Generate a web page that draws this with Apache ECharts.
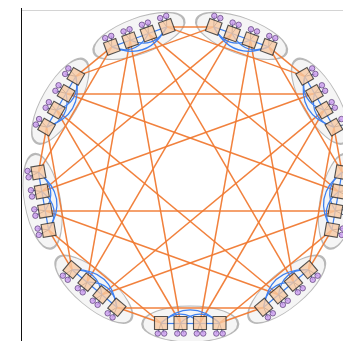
<!DOCTYPE html>
<html>
<head>
<meta charset="utf-8">
<script src="https://cdn.jsdelivr.net/npm/echarts@6/dist/echarts.min.js"></script>
<style>
  html, body { margin: 0; padding: 0; background: #ffffff; }
  #chart { width: 343px; height: 341px; }
</style>
</head>
<body>
<div id="chart"></div>
<script>
// Dragonfly network: 9 groups, 4 routers per group, 2 hosts per router.
const groups = ['G0', 'G1', 'G2', 'G3', 'G4', 'G5', 'G6', 'G7', 'G8'];
const routersPerGroup = 4;
const hostsPerRouter = 2;

// Global (inter-group) links: [groupA, routerA, groupB, routerB]
const globalLinks = [
  [0, 0, 1, 3], [0, 0, 2, 3], [0, 1, 3, 2], [0, 1, 4, 2], [0, 2, 5, 1], [0, 2, 6, 1], [0, 3, 7, 0], [0, 3, 8, 0],
  [1, 0, 2, 3], [1, 0, 3, 3], [1, 1, 4, 2], [1, 1, 5, 2], [1, 2, 6, 1], [1, 2, 7, 1], [1, 3, 8, 0],
  [2, 0, 3, 3], [2, 0, 4, 3], [2, 1, 5, 2], [2, 1, 6, 2], [2, 2, 7, 1], [2, 2, 8, 1],
  [3, 0, 4, 3], [3, 0, 5, 3], [3, 1, 6, 2], [3, 1, 7, 2], [3, 2, 8, 1],
  [4, 0, 5, 3], [4, 0, 6, 3], [4, 1, 7, 2], [4, 1, 8, 2],
  [5, 0, 6, 3], [5, 0, 7, 3], [5, 1, 8, 2],
  [6, 0, 7, 3], [6, 0, 8, 3],
  [7, 0, 8, 3]
];

// Local (intra-group) links, all-to-all between the routers of a group
const localLinks = [[0, 1], [1, 2], [2, 3], [0, 2], [1, 3], [0, 3]];

// ---- ring layout ----
const CX = 190.25, CY = 175.5, RX = 149, RY = 147.5;
const SPACING = 19.5;       // distance between routers along a group
const HOST_OUT = 10.5;      // host distance outward from its router
const HOST_SIDE = 3.2;      // host offset along the group

function groupAngle(g) {
  return (90 + 360 / groups.length * g) * Math.PI / 180;
}
function groupCenter(g, extra) {
  const a = groupAngle(g);
  return [CX + (RX + extra) * Math.cos(a), CY + (RY + extra) * Math.sin(a)];
}
function routerPos(g, r) {
  const a = groupAngle(g);
  const c = groupCenter(g, 0);
  const off = ((routersPerGroup - 1) / 2 - r) * SPACING;
  return [c[0] - Math.sin(a) * off, c[1] + Math.cos(a) * off];
}
function hostPos(g, r, h) {
  const a = groupAngle(g);
  const p = routerPos(g, r);
  const side = (h - (hostsPerRouter - 1) / 2) * 2 * HOST_SIDE;
  return [p[0] + Math.cos(a) * HOST_OUT - Math.sin(a) * side,
          p[1] + Math.sin(a) * HOST_OUT + Math.cos(a) * side];
}
const deg = g => (90 + 360 / groups.length * g);

// ---- build series data ----
const ellipseData = groups.map((name, g) => ({
  name: name,
  value: groupCenter(g, 1),
  symbolRotate: 90 - deg(g)
}));

const routerData = [];
const hostData = [];
const stemData = [];
groups.forEach((name, g) => {
  for (let r = 0; r < routersPerGroup; r++) {
    const p = routerPos(g, r);
    routerData.push({ name: name + '-R' + r, value: p, symbolRotate: -deg(g) });
    for (let h = 0; h < hostsPerRouter; h++) {
      const q = hostPos(g, r, h);
      hostData.push({ name: name + '-R' + r + '-H' + h, value: q });
      stemData.push({ coords: [p, q] });
    }
  }
});

const globalData = globalLinks.map(([ga, ra, gb, rb]) => ({
  coords: [routerPos(ga, ra), routerPos(gb, rb)]
}));

// local links bow towards the ring centre
const localData = [];
groups.forEach((name, g) => {
  localLinks.forEach(([a, b]) => {
    const span = b - a;
    localData.push({
      coords: [routerPos(g, a), routerPos(g, b)],
      lineStyle: { curveness: span === 1 ? 0 : 0.45 }
    });
  });
});

const chart = echarts.init(document.getElementById('chart'), null, { renderer: 'canvas' });
chart.setOption({
  animation: false,
  backgroundColor: '#ffffff',
  grid: { left: 0, right: 0, top: 0, bottom: 0 },
  xAxis: { type: 'value', min: 0, max: 343, show: false },
  yAxis: { type: 'value', min: 0, max: 341, inverse: true, show: false },
  graphic: [
    { type: 'line', shape: { x1: 21, y1: 10.5, x2: 343, y2: 10.5 },
      style: { stroke: '#d4d4d4', lineWidth: 1 }, z: 0 },
    { type: 'line', shape: { x1: 21.5, y1: 8, x2: 21.5, y2: 341 },
      style: { stroke: '#111111', lineWidth: 1 }, z: 0 }
  ],
  series: [
    {
      name: 'groups', type: 'scatter', z: 1,
      symbol: 'circle', symbolSize: [96, 36],
      itemStyle: { color: '#f3f3f3', borderColor: '#a8a8a8', borderWidth: 1.4 },
      silent: true, data: ellipseData
    },
    {
      name: 'global links', type: 'lines', coordinateSystem: 'cartesian2d', z: 2,
      lineStyle: { color: '#f07a33', width: 1.5, opacity: 0.95 },
      silent: true, data: globalData
    },
    {
      name: 'local links', type: 'lines', coordinateSystem: 'cartesian2d', z: 3,
      lineStyle: { color: '#3d7ff0', width: 1.2, opacity: 1 },
      silent: true, data: localData
    },
    {
      name: 'host links', type: 'lines', coordinateSystem: 'cartesian2d', z: 3,
      lineStyle: { color: '#4a5a80', width: 1, opacity: 1 },
      silent: true, data: stemData
    },
    {
      name: 'routers', type: 'scatter', z: 4,
      symbol: 'rect', symbolSize: 13,
      itemStyle: { color: '#f8c9a2', borderColor: '#2b2b2b', borderWidth: 1.1 },
      silent: true, data: routerData
    },
    {
      name: 'hosts', type: 'scatter', z: 5,
      symbol: 'circle', symbolSize: 5.5,
      itemStyle: { color: '#cc9cf0', borderColor: '#5a3f78', borderWidth: 0.9 },
      silent: true, data: hostData
    }
  ]
});
</script>
</body>
</html>
